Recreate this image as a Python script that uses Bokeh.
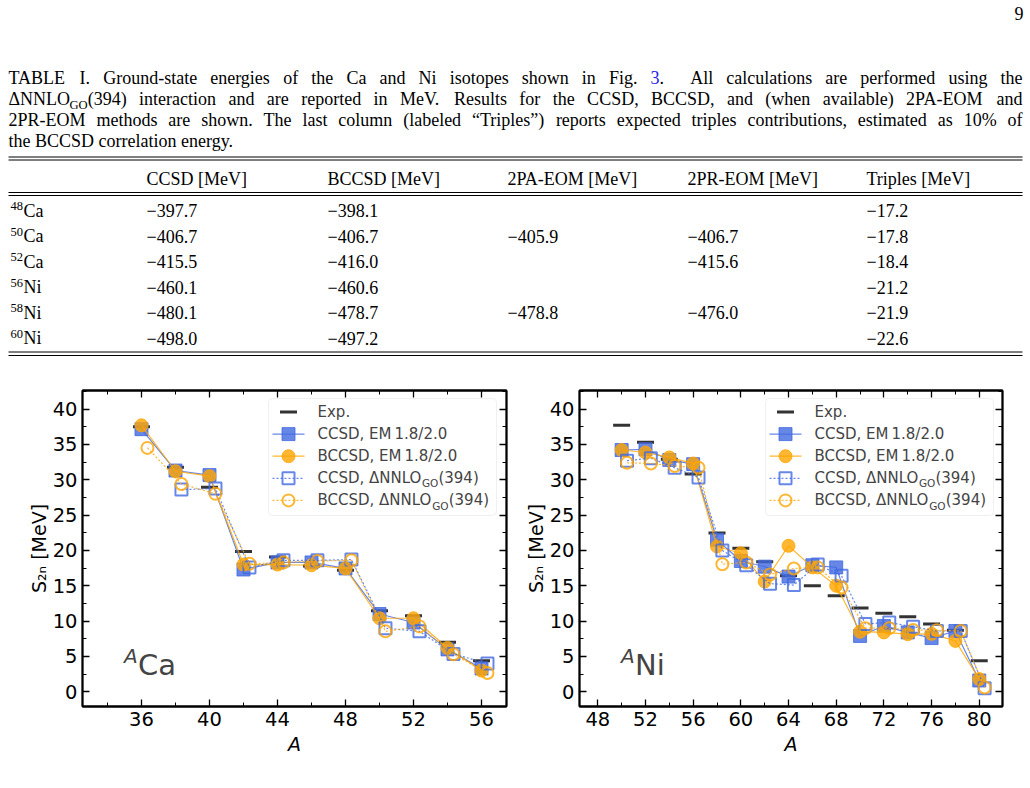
import re
import numpy as np
from bokeh.plotting import figure
from bokeh.layouts import column, row
from bokeh.models import Range1d, LinearAxis, SingleIntervalTicker, BoxAnnotation, Label
from bokeh.core.properties import value
from bokeh.embed import file_html
from bokeh.resources import INLINE

# ---------------- table data ----------------
mass_numbers = [48, 50, 52, 56, 58, 60]
elements = ["Ca", "Ca", "Ca", "Ni", "Ni", "Ni"]
ccsd = [-397.7, -406.7, -415.5, -460.1, -480.1, -498.0]
bccsd = [-398.1, -406.7, -416.0, -460.6, -478.7, -497.2]
eom_2pa = [None, -405.9, None, None, -478.8, None]
eom_2pr = [None, -406.7, -415.6, None, -476.0, None]
triples = [-17.2, -17.8, -18.4, -21.2, -21.9, -22.6]
column_headers = ["CCSD [MeV]", "BCCSD [MeV]", "2PA-EOM [MeV]", "2PR-EOM [MeV]", "Triples [MeV]"]

caption_lines = [
    "TABLE I. Ground-state energies of the Ca and Ni isotopes shown in Fig. {3}.  All calculations are performed using the",
    "\u0394NNLO_{GO}(394) interaction and are reported in MeV. Results for the CCSD, BCCSD, and (when available) 2PA-EOM and",
    "2PR-EOM methods are shown. The last column (labeled \u201cTriples\u201d) reports expected triples contributions, estimated as 10% of",
    "the BCCSD correlation energy.",
]

# ---------------- S2n data: Ca ----------------
ca_exp_A = [36, 38, 40, 42, 44, 46, 48, 50, 52, 54, 56]
ca_exp_S = [37.5, 31.75, 28.95, 19.85, 19.05, 17.8, 17.2, 11.45, 10.75, 7.0, 4.4]
ca_em_A = [36, 38, 40, 42, 44, 46, 48, 50, 52, 54, 56]
ca_em_ccsd = [37.15, 31.3, 30.65, 17.3, 18.3, 18.3, 17.45, 11.0, 9.8, 6.0, 3.3]
ca_em_bccsd = [37.7, 31.2, 30.5, 18.0, 18.0, 17.9, 17.45, 10.4, 10.4, 6.2, 3.0]
ca_go_ccsd_A = [38, 40, 42, 44, 46, 48, 50, 52, 54, 56]
ca_go_ccsd = [28.6, 28.75, 17.6, 18.6, 18.6, 18.7, 9.0, 8.55, 5.35, 4.0]
ca_go_bccsd_A = [36, 38, 40, 42, 44, 46, 48, 50, 52, 54, 56]
ca_go_bccsd = [34.5, 29.4, 28.0, 18.1, 18.3, 18.5, 18.6, 8.55, 9.25, 5.3, 2.65]

# ---------------- S2n data: Ni ----------------
ni_exp_A = [50, 52, 54, 56, 58, 60, 62, 64, 66, 68, 70, 72, 74, 76, 78, 80]
ni_exp_S = [37.7, 35.3, 32.9, 30.8, 22.45, 20.3, 18.4, 16.4, 15.0, 13.6, 11.85, 11.1, 10.6, 9.6, 8.7, 4.4]
ni_em_A = [50, 52, 54, 56, 58, 60, 62, 64, 66, 68, 70, 72, 74, 76, 78, 80]
ni_em_ccsd = [34.2, 34.3, 32.8, 32.2, 21.5, 18.5, 17.7, 16.3, 17.9, 17.6, 7.9, 9.3, 8.4, 7.6, 8.6, 1.6]
ni_em_bccsd = [34.2, 33.85, 33.15, 32.3, 20.55, 19.6, 15.6, 20.65, 17.6, 15.0, 8.5, 8.4, 8.15, 8.2, 7.2, 1.8]
ni_go_A = [50, 52, 54, 56, 58, 60, 62, 64, 66, 68, 70, 72, 74, 76, 78, 80]
ni_go_ccsd = [32.7, 33.05, 31.7, 30.3, 20.0, 17.9, 15.3, 15.1, 18.0, 16.4, 9.6, 9.8, 9.2, 8.6, 8.6, 0.5]
ni_go_bccsd = [32.4, 32.3, 31.95, 31.7, 18.05, 18.3, 16.6, 17.45, 17.6, 14.75, 9.0, 9.0, 8.75, 8.7, 8.6, 0.6]

legend_labels = ["Exp.", "CCSD, EM\u20091.8/2.0", "BCCSD, EM\u20091.8/2.0",
                 "CCSD, \u0394NNLO", "BCCSD, \u0394NNLO"]

# ---------------- styles ----------------
SERIF = "Liberation Serif"
SANS = "DejaVu Sans"
LINK = "#2626E6"
BLUE = "#4169E1"
ORANGE = "#FFA500"
EXPC = "#333333"
W, TOP_H, PANEL_H = 1030, 380, 408
# the alphabetic baseline is rendered slightly low; lift texts by this fraction of their size
BASE_FIX = 0.37

# Times-compatible advance widths (1/1000 em) used to justify caption lines
TW = dict(zip(" !\"#$%&'()*+,-./", [250, 333, 408, 500, 500, 833, 778, 180, 333, 333, 500, 564, 250, 333, 250, 278]))
TW.update({d: 500 for d in "0123456789"})
TW.update({":": 278, ";": 278, "[": 333, "]": 333, "\u201c": 444, "\u201d": 444, "\u0394": 612, "\u2212": 564})
TW.update(zip("ABCDEFGHIJKLMNOPQRSTUVWXYZ",
              [722, 667, 667, 722, 611, 556, 722, 722, 333, 389, 722, 611, 889, 722, 722, 556, 722, 667, 556, 611,
               722, 722, 944, 722, 722, 611]))
TW.update(zip("abcdefghijklmnopqrstuvwxyz",
              [444, 500, 444, 500, 444, 333, 500, 500, 278, 278, 500, 278, 778, 500, 500, 500, 500, 333, 389, 278,
               500, 500, 722, 500, 500, 444]))


def text_width(s, size):
    return sum(TW.get(c, 500) for c in s) / 1000.0 * size


def word_segments(word):
    segs = []
    for part in re.split(r"(_\{[^}]*\}|\{[^}]*\})", word):
        if not part:
            continue
        if part.startswith("_{"):
            segs.append((part[2:-1], 0.7, 4.0, "black"))
        elif part.startswith("{"):
            segs.append((part[1:-1], 1.0, 0.0, LINK))
        else:
            segs.append((part, 1.0, 0.0, "black"))
    return segs


# ---------------- page header: caption and table ----------------
top = figure(width=W, height=TOP_H, x_range=Range1d(0, W), y_range=Range1d(TOP_H, 0),
             x_axis_type=None, y_axis_type=None, toolbar_location=None,
             output_backend="svg", min_border=0)
top.outline_line_color = None

groups = {}


def add_text(x, y, s, size, color="black", align="left"):
    g = groups.setdefault((round(size, 2), color, align), dict(x=[], y=[], text=[]))
    g["x"].append(x)
    g["y"].append(y - BASE_FIX * size)
    g["text"].append(s)


CAP_SIZE = 18.0
LEFT, RIGHT = 8.0, 1022.0
for i, line in enumerate(caption_lines):
    base = 84 + 21 * i
    tokens = re.split(r"( +)", line)
    words = [word_segments(t) for t in tokens[0::2]]
    gaps = [len(t) for t in tokens[1::2]]
    widths = [sum(text_width(s, CAP_SIZE * sc) for s, sc, _, _ in w) for w in words]
    justified = i < len(caption_lines) - 1
    unit = (RIGHT - LEFT - sum(widths)) / sum(gaps) if justified else 0.25 * CAP_SIZE
    xc = LEFT
    for k, w in enumerate(words):
        for s, sc, dy, col in w:
            add_text(xc, base + dy, s, CAP_SIZE * sc, col)
            xc += text_width(s, CAP_SIZE * sc)
        if k < len(gaps):
            xc += unit * gaps[k]

add_text(1023, 20, "9", 18, align="right")

col_x = [146, 327, 507, 687, 866]
for h, cx in zip(column_headers, col_x):
    add_text(cx, 185, h, 18)


def fmt(v):
    return "" if v is None else ("\u2212" if v < 0 else "") + f"{abs(v):.1f}"


for r, (a, el) in enumerate(zip(mass_numbers, elements)):
    base = 216.7 + 25.5 * r
    add_text(10, base - 6.5, str(a), 12.5)
    add_text(10 + text_width(str(a), 12.5) + 0.5, base, el, 18)
    for cx, series in zip(col_x, [ccsd, bccsd, eom_2pa, eom_2pr, triples]):
        s = fmt(series[r])
        if s:
            add_text(cx, base, s, 18)

for (size, color, align), g in groups.items():
    top.text(x=g["x"], y=g["y"], text=g["text"], text_font=value(SERIF),
             text_font_size=f"{size}px", text_color=color, text_align=align,
             text_baseline="alphabetic")

rule_y = [156.5, 159.5, 192.0, 195.0, 351.5, 355.0]
top.segment(x0=[LEFT] * 6, x1=[RIGHT] * 6, y0=rule_y, y1=rule_y, line_color="black", line_width=1)


# ---------------- S2n panels ----------------
Y_LO, Y_HI = -2.08, 42.62


def panel(width, bl, br, xr, exp_A, exp_S, em_A, em_c, em_b, gc_A, gc, gb_A, gb, shift, element):
    fw, fh = width - bl - br, PANEL_H - 10 - 82
    p = figure(width=width, height=PANEL_H, x_range=Range1d(*xr), y_range=Range1d(Y_LO, Y_HI),
               toolbar_location=None, output_backend="svg",
               min_border_left=bl, min_border_right=br, min_border_top=10, min_border_bottom=82)
    p.extra_x_ranges = {"px": Range1d(0, fw)}
    p.extra_y_ranges = {"px": Range1d(fh, 0)}
    p.grid.visible = False
    p.outline_line_color = "black"
    p.outline_line_width = 1.8

    xt = SingleIntervalTicker(interval=4, num_minor_ticks=2)
    yt = SingleIntervalTicker(interval=5, num_minor_ticks=2)
    p.xaxis.ticker = xt
    p.yaxis.ticker = yt
    # mirrored tick marks on the top and right spines, without labels
    for loc, tk in (("above", xt), ("right", yt)):
        p.add_layout(LinearAxis(ticker=tk, major_label_text_font_size="0px",
                                major_label_text_color=None, major_label_standoff=0), loc)
    for ax in p.axis:
        ax.major_tick_in, ax.major_tick_out = 7, 0
        ax.minor_tick_in, ax.minor_tick_out = 4, 0
        ax.major_tick_line_width = 1.3
        ax.minor_tick_line_width = 1.0
        ax.axis_line_width = 1.8
        ax.axis_line_color = "black"
        ax.major_tick_line_color = "black"
        ax.minor_tick_line_color = "black"
    for ax in (p.below[0], p.left[0]):
        ax.major_label_text_font = SANS
        ax.major_label_text_font_size = "19.5px"
        ax.major_label_text_color = "black"
        ax.major_label_standoff = 5
        ax.axis_label_text_font = SANS
        ax.axis_label_text_font_size = "19px"
        ax.axis_label_text_color = "black"
    p.below[0].axis_label = "A"
    p.below[0].axis_label_text_font_style = "italic"
    p.below[0].axis_label_standoff = 4
    p.left[0].axis_label = "S\u2082\u2099 [MeV]"
    p.left[0].axis_label_text_font_style = "normal"
    p.left[0].axis_label_standoff = 0

    # data
    p.scatter(exp_A, exp_S, marker="dash", size=17, line_width=3, line_color=EXPC)
    p.line(em_A, em_c, line_color=BLUE, line_width=1.2, line_alpha=0.8)
    p.scatter(em_A, em_c, marker="square", size=13, fill_color=BLUE, fill_alpha=0.8,
              line_color=BLUE, line_alpha=0.8)
    p.line(em_A, em_b, line_color=ORANGE, line_width=1.2, line_alpha=0.8)
    p.scatter(em_A, em_b, marker="circle", size=13, fill_color=ORANGE, fill_alpha=0.8,
              line_color=ORANGE, line_alpha=0.8)
    gcx = np.array(gc_A, dtype=float) + shift
    gbx = np.array(gb_A, dtype=float) + shift
    p.line(gcx, gc, line_color=BLUE, line_width=1.2, line_alpha=0.8, line_dash="2 2")
    p.scatter(gcx, gc, marker="square", size=12, fill_color=None, line_color=BLUE,
              line_width=2, line_alpha=0.8)
    p.line(gbx, gb, line_color=ORANGE, line_width=1.2, line_alpha=0.8, line_dash="2 2")
    p.scatter(gbx, gb, marker="circle", size=12, fill_color=None, line_color=ORANGE,
              line_width=2, line_alpha=0.8)

    # element tag
    p.add_layout(Label(x=41.5, y=273 - BASE_FIX * 20, x_range_name="px", y_range_name="px", text="A",
                       text_font=SANS, text_font_size="20px", text_font_style="italic",
                       text_baseline="alphabetic"))
    p.add_layout(Label(x=55.5, y=285 - BASE_FIX * 29, x_range_name="px", y_range_name="px",
                       text=element, text_font=SANS, text_font_size="29px",
                       text_baseline="alphabetic"))

    # legend
    p.add_layout(BoxAnnotation(left=186, right=414, top=8, bottom=125, x_range_name="px",
                               y_range_name="px", fill_color="white", fill_alpha=0.8,
                               line_color="#cccccc", line_width=1, border_radius=4))
    rows_y = [21.5, 43.6, 65.7, 87.8, 109.9]
    hx0, hx1, mx, tx = 190, 222, 206, 235

    def ov(r):
        r.level = "overlay"

    ov(p.scatter([mx], [rows_y[0]], marker="dash", size=17, line_width=3, line_color=EXPC,
                 x_range_name="px", y_range_name="px"))
    styles = [(BLUE, "square", True, "solid"), (ORANGE, "circle", True, "solid"),
              (BLUE, "square", False, "2 2"), (ORANGE, "circle", False, "2 2")]
    for yy, (col, mk, filled, dash) in zip(rows_y[1:], styles):
        ov(p.segment(x0=[hx0], x1=[hx1], y0=[yy], y1=[yy], line_color=col, line_width=1.2,
                     line_alpha=0.8, line_dash=dash, x_range_name="px", y_range_name="px"))
        if filled:
            ov(p.scatter([mx], [yy], marker=mk, size=13, fill_color=col, fill_alpha=0.8,
                         line_color=col, line_alpha=0.8, x_range_name="px", y_range_name="px"))
        else:
            ov(p.scatter([mx], [yy], marker=mk, size=12, fill_color=None, line_color=col,
                         line_width=2, line_alpha=0.8, x_range_name="px", y_range_name="px"))
    LS, SS = 15.0, 10.5
    for k, (yy, lab) in enumerate(zip(rows_y, legend_labels)):
        base = yy + 5.5
        p.add_layout(Label(x=tx, y=base - BASE_FIX * LS, x_range_name="px", y_range_name="px",
                           text=lab, text_font=SANS, text_font_size=f"{LS}px",
                           text_baseline="alphabetic"))
        if k >= 3:
            w0 = (104.4 if k == 3 else 114.7)
            p.add_layout(Label(x=tx + w0, y=base + 3.5 - BASE_FIX * SS, x_range_name="px",
                               y_range_name="px", text="GO", text_font=SANS,
                               text_font_size=f"{SS}px", text_baseline="alphabetic"))
            p.add_layout(Label(x=tx + w0 + 16.5, y=base - BASE_FIX * LS, x_range_name="px",
                               y_range_name="px", text="(394)", text_font=SANS,
                               text_font_size=f"{LS}px", text_baseline="alphabetic"))
    return p


ca = panel(508, 82, 2, (32.53, 57.47), ca_exp_A, ca_exp_S, ca_em_A, ca_em_ccsd, ca_em_bccsd,
           ca_go_ccsd_A, ca_go_ccsd, ca_go_bccsd_A, ca_go_bccsd, 0.35, "Ca")
ni = panel(522, 71, 28, (46.465, 81.95), ni_exp_A, ni_exp_S, ni_em_A, ni_em_ccsd, ni_em_bccsd,
           ni_go_A, ni_go_ccsd, ni_go_A, ni_go_bccsd, 0.45, "Ni")

layout = column(top, row(ca, ni, spacing=0), spacing=0)
open("out.html", "w").write(file_html(layout, INLINE))
